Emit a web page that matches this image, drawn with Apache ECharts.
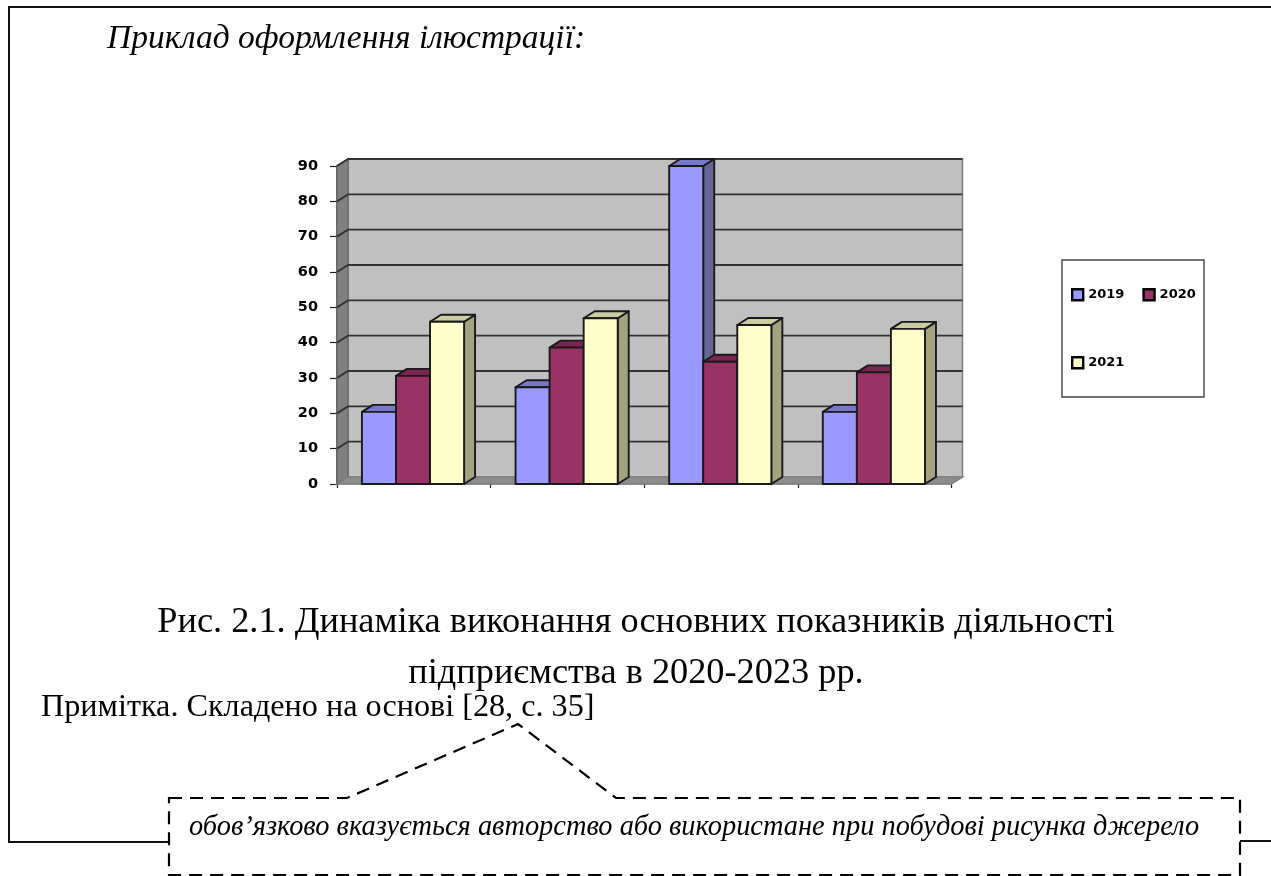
<!DOCTYPE html>
<html><head><meta charset="utf-8">
<style>html,body{margin:0;padding:0;background:#fff}#c{width:1271px;height:876px}</style>
<script src="https://cdn.jsdelivr.net/npm/echarts@6/dist/echarts.min.js"></script>
</head><body><div id="c"></div>
<script>
const categories = ['Q1','Q2','Q3','Q4'];
const yTicks = [0,10,20,30,40,50,60,70,80,90];
const s2019 = [20.4,27.4,90,20.4];
const s2020 = [30.6,38.6,34.6,31.6];
const s2021 = [45.9,46.9,45,43.9];
const seriesNames = ['2019','2020','2021'];
const palette = {
  '2019':{f:'#9999ff',s:'#666699',t:'#7777cc'},
  '2020':{f:'#993366',s:'#662244',t:'#7a2650'},
  '2021':{f:'#ffffcc',s:'#a3a37f',t:'#cccca3'}
};
const DX=11, DY=-7, GAP=0.665, LINE='#1a1a1a';
const chart = echarts.init(document.getElementById('c'),null,{renderer:'canvas'});

function wallRender(params, api){
  const p0=api.coord([0,0]), bw=api.size([1,0])[0];
  const x0=p0[0]-bw/2, x1=x0+bw*categories.length;
  const yb=p0[1], yt=api.coord([0,yTicks[yTicks.length-1]])[1];
  const kids=[
    {type:'polygon',shape:{points:[[x0+DX,yt+DY],[x1+DX,yt+DY],[x1+DX,yb+DY],[x0+DX,yb+DY]]},style:{fill:'#c0c0c0',stroke:'#808080',lineWidth:1.5}},
    {type:'polygon',shape:{points:[[x0,yt],[x0+DX,yt+DY],[x0+DX,yb+DY],[x0,yb]]},style:{fill:'#808080',stroke:'#6a6a6a',lineWidth:1.5}},
    {type:'polygon',shape:{points:[[x0,yb],[x0+DX,yb+DY],[x1+DX,yb+DY],[x1,yb]]},style:{fill:'#8c8c8c',stroke:'#808080',lineWidth:1.5}}
  ];
  yTicks.forEach(t=>{
    const y=api.coord([0,t])[1];
    if(t>0)kids.push({type:'polyline',shape:{points:[[x0,y],[x0+DX,y+DY],[x1+DX,y+DY]]},style:{fill:null,stroke:'#333',lineWidth:1.9}});
  });
  return {type:'group',children:kids};
}
function barRender(idx){
  return function(params, api){
    const cat=api.value(0), val=api.value(1);
    const p=api.coord([cat,val]), b=api.coord([cat,0]);
    const bw=api.size([1,0])[0], w=bw*GAP/3;
    const left=p[0]-bw*GAP/2+idx*w-0.8, right=left+w, top=p[1], bot=b[1];
    const c=palette[seriesNames[idx]], st={stroke:LINE,lineWidth:1.9,lineJoin:'round'};
    return {type:'group',children:[
      {type:'polygon',shape:{points:[[right,top],[right+DX,top+DY],[right+DX,bot+DY],[right,bot]]},style:{fill:c.s,...st}},
      {type:'polygon',shape:{points:[[left,top],[left+DX,top+DY],[right+DX,top+DY],[right,top]]},style:{fill:c.t,...st}},
      {type:'rect',shape:{x:left,y:top,width:w,height:bot-top},style:{fill:c.f,...st}}
    ]};
  };
}
const barSeries=[s2019,s2020,s2021].map((vals,i)=>({
  name:seriesNames[i],type:'custom',coordinateSystem:'cartesian2d',
  encode:{x:0,y:1},clip:false,z:3,
  itemStyle:{color:palette[seriesNames[i]].f},
  renderItem:barRender(i),
  data:vals.map((v,k)=>[k,v])
}));
const legendBase={orient:'horizontal',icon:'rect',itemWidth:11,itemHeight:11,itemGap:18,selectedMode:false,padding:0,
  textStyle:{fontFamily:'DejaVu Sans',fontWeight:'bold',fontSize:13,color:'#000'}};
const legItem=n=>({name:n,itemStyle:{color:palette[n].f,borderColor:'#000',borderWidth:2.4}});
const serif='"Liberation Serif"';
const txt=(x,y,s,size,opt={})=>({type:'text',x,y,silent:true,style:{text:s,font:`${opt.italic?'italic ':''}${size}px ${serif}`,fill:'#000',textAlign:opt.align||'left',textVerticalAlign:'middle'}});
chart.setOption({
  animation:false,backgroundColor:'#fff',
  grid:{left:337,top:166,width:614.5,height:318,containLabel:false},
  xAxis:{type:'category',data:categories,boundaryGap:true,
    axisLine:{show:true,lineStyle:{color:'#888',width:1.5}},
    axisTick:{show:true,length:4,lineStyle:{color:'#222',width:1.2}},axisLabel:{show:false},splitLine:{show:false}},
  yAxis:{type:'value',min:0,max:90,interval:10,
    axisLine:{show:true,lineStyle:{color:'#333',width:1.5}},
    axisTick:{show:true,length:7,lineStyle:{color:'#222',width:1.2}},
    axisLabel:{margin:19,fontFamily:'DejaVu Sans',fontWeight:'bold',fontSize:14.5,color:'#000'},splitLine:{show:false}},
  legend:[
    {...legendBase,left:1071,top:288,data:[legItem('2019'),legItem('2020')]},
    {...legendBase,left:1071,top:356,data:[legItem('2021')]}
  ],
  series:[{name:'wall',type:'custom',coordinateSystem:'cartesian2d',encode:{x:0,y:1},clip:false,z:1,silent:true,renderItem:wallRender,data:[[0,0]]},...barSeries],
  graphic:[
    {type:'polyline',silent:true,z:0,shape:{points:[[169,842],[9,842],[9,7],[1271,7]]},style:{fill:null,stroke:'#111',lineWidth:2}},
    {type:'line',silent:true,z:0,shape:{x1:1240,y1:841,x2:1271,y2:841},style:{stroke:'#111',lineWidth:2}},
    {type:'polygon',silent:true,z:5,shape:{points:[[169,798],[347,798],[518,724],[616,798],[1240,798],[1240,875],[169,875]]},style:{fill:'#fff',fillOpacity:0,stroke:'#000',lineWidth:2.2,lineDash:[13,8]}},
    {type:'rect',silent:true,z:0,shape:{x:1062,y:260,width:142,height:137},style:{fill:'#fff',stroke:'#444',lineWidth:1.4}},
    txt(107,39,'Приклад оформлення ілюстрації:',33.5,{italic:true}),
    txt(636,622,'Рис. 2.1. Динаміка виконання основних показників діяльності',36.3,{align:'center'}),
    txt(636,673,'підприємства в 2020-2023 рр.',36.3,{align:'center'}),
    txt(41,708,'Примітка. Складено на основі [28, с. 35]',32.2),
    txt(189,828,'обов’язково вказується авторство або використане при побудові рисунка джерело',28.4,{italic:true})
  ]
});
</script></body></html>
